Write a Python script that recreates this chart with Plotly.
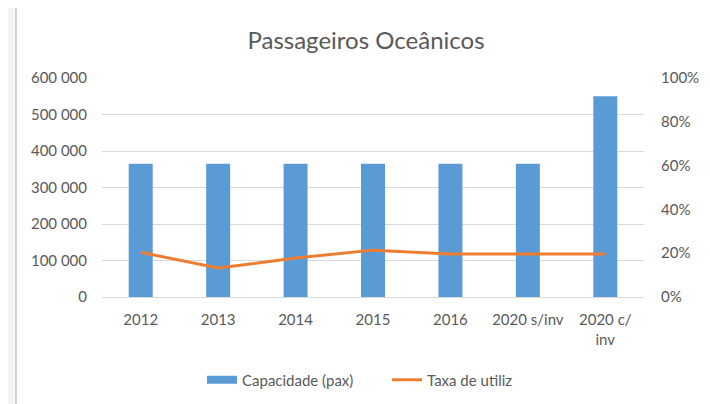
import plotly.graph_objects as go

categories = ["2012", "2013", "2014", "2015", "2016", "2020 s/inv", "2020 c/<br>inv"]
capacidade = [365000, 365000, 365000, 365000, 365000, 365000, 550000]
taxa = [0.204, 0.132, 0.178, 0.214, 0.196, 0.196, 0.196]

# the page places the figure 8 px in from the window's top-left corner
OFF = 8
W, H = 710 - OFF, 404 - OFF
L, R, T, B = 102 - OFF, 710 - 644, 78 - OFF, 404 - 297
pw, ph = W - L - R, H - T - B

def px(x):
    return (x - OFF - L) / pw

def py(y):
    return (H - B - (y - OFF)) / ph

grey = "#595959"
font = "Lato"

fig = go.Figure()
fig.add_trace(go.Bar(
    x=categories, y=capacidade, name="Capacidade (pax)",
    marker=dict(color="#5b9bd5", line=dict(width=0)), yaxis="y", showlegend=False,
))
fig.add_trace(go.Scatter(
    x=[None], y=[None], name="Capacidade (pax)", mode="lines",
    line=dict(color="#5b9bd5", width=8), yaxis="y",
))
fig.add_trace(go.Scatter(
    x=categories, y=taxa, name="Taxa de utiliz", mode="lines",
    line=dict(color="#ed7d31", width=3), yaxis="y2",
))

fig.update_layout(
    width=W, height=H,
    margin=dict(l=L, r=R, t=T, b=B, autoexpand=False),
    paper_bgcolor="#f3f3f3", plot_bgcolor="white",
    separators=". ",
    font=dict(family=font, size=15, color=grey),
    bargap=0.69,
    title=dict(text="Passageiros Oceânicos", font=dict(family=font, size=24, color=grey),
               x=(366 - OFF) / W, xanchor="center", xref="container",
               y=1 - (41 - OFF) / H, yanchor="middle", yref="container"),
    xaxis=dict(type="category", showgrid=False, showline=False, zeroline=False,
               ticks="outside", ticklen=9, tickcolor="rgba(0,0,0,0)",
               tickfont=dict(size=15, color=grey)),
    yaxis=dict(range=[0, 600000], dtick=100000, tickformat=",d",
               showgrid=True, gridcolor="#d9d9d9", gridwidth=1,
               zeroline=True, zerolinecolor="#d9d9d9", zerolinewidth=1,
               showline=False, ticks="", ticklabelstandoff=14,
               tickfont=dict(size=15, color=grey)),
    yaxis2=dict(range=[0, 1], dtick=0.2, tickformat=".0%", overlaying="y", side="right",
                showgrid=False, zeroline=False, showline=False, ticks="",
                ticklabelstandoff=16, tickfont=dict(size=15, color=grey)),
    legend=dict(orientation="h", x=px(202), xanchor="left", y=py(380), yanchor="middle",
                font=dict(size=15, color=grey), bgcolor="rgba(0,0,0,0)",
                entrywidth=140, entrywidthmode="pixels",
                traceorder="normal"),
    showlegend=True,
    shapes=[
        dict(type="rect", xref="paper", yref="paper", x0=px(16), x1=px(720), y0=py(420), y1=py(7),
             fillcolor="white", line=dict(color="#d0d0d0", width=2), layer="below"),
    ],
)

fig.write_html("out.html")
